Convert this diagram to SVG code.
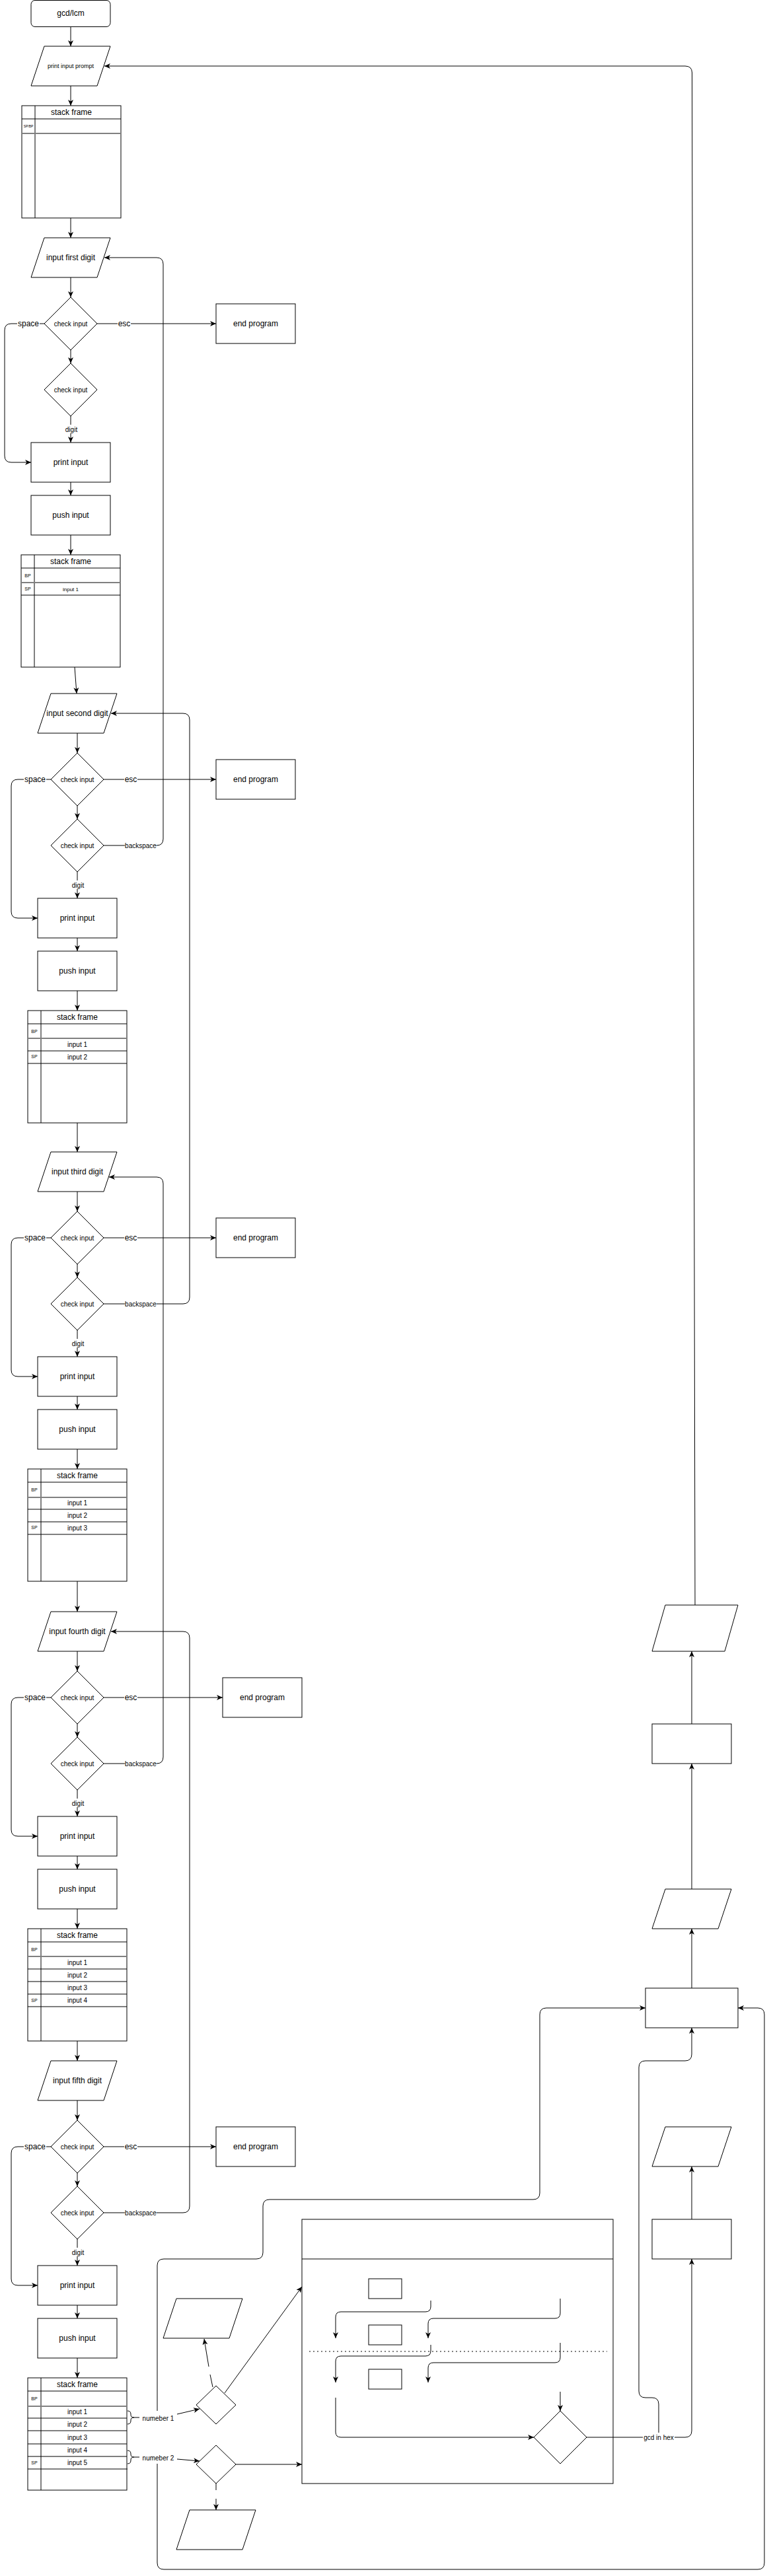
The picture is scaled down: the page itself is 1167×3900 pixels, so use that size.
<svg xmlns="http://www.w3.org/2000/svg" width="1167" height="3900" viewBox="0 0 1167 3900">
<defs>
<style>
.s{fill:#fff;stroke:#000;stroke-width:1}
.c{fill:none;stroke:#000;stroke-width:1}
.a{marker-end:url(#ar)}
.g{stroke:#808080;stroke-width:2}
.l{stroke:#000;stroke-width:1}
.bg{fill:#fff;stroke:none}
text{font-family:"Liberation Sans",Arial,Helvetica,sans-serif;fill:#000;text-anchor:middle}
.f12{font-size:12px}.f10{font-size:10px}.f9{font-size:9px}.f8{font-size:8px}.f7{font-size:7px}.f5{font-size:5px}
</style>
<marker id="ar" markerWidth="10" markerHeight="8" refX="9" refY="4" orient="auto" markerUnits="userSpaceOnUse"><path d="M0,0 L9,4 L0,8 L2.5,4 Z" fill="#000"/></marker>
</defs>
<rect x="0" y="0" width="1167" height="3900" fill="#fff"/>

<!-- connectors -->
<g id="connectors">
<!-- section 1 -->
<path class="c a" d="M107,40 V70"/>
<path class="c a" d="M107,130 V160"/>
<path class="c a" d="M107,330 V360"/>
<path class="c a" d="M107,420 V450"/>
<path class="c a" d="M107,530 V550"/>
<path class="c a" d="M107,630 V670"/>
<path class="c a" d="M107,730 V750"/>
<path class="c a" d="M107,810 V840"/>
<path class="c a" d="M147,490 H327"/>
<path class="c a" d="M67,490 H17 Q7,490 7,500 V690 Q7,700 17,700 H47"/>
<!-- section 2 -->
<path class="c a" d="M113,1010 L116,1050"/>
<path class="c a" d="M117,1110 V1140"/>
<path class="c a" d="M117,1220 V1240"/>
<path class="c a" d="M117,1320 V1360"/>
<path class="c a" d="M117,1420 V1440"/>
<path class="c a" d="M117,1500 V1530"/>
<path class="c a" d="M157,1180 H327"/>
<path class="c a" d="M77,1180 H27 Q17,1180 17,1190 V1380 Q17,1390 27,1390 H57"/>
<path class="c a" d="M157,1280 H237 Q247,1280 247,1270 V400 Q247,390 237,390 H158"/>
<!-- section 3 -->
<path class="c a" d="M117,1700 V1744"/>
<path class="c a" d="M117,1804 V1834"/>
<path class="c a" d="M117,1914 V1934"/>
<path class="c a" d="M117,2014 V2054"/>
<path class="c a" d="M117,2114 V2134"/>
<path class="c a" d="M117,2194 V2224"/>
<path class="c a" d="M157,1874 H327"/>
<path class="c a" d="M77,1874 H27 Q17,1874 17,1884 V2074 Q17,2084 27,2084 H57"/>
<path class="c a" d="M157,1974 H277 Q287,1974 287,1964 V1090 Q287,1080 277,1080 H168"/>
<!-- section 4 -->
<path class="c a" d="M117,2394 V2440"/>
<path class="c a" d="M117,2500 V2530"/>
<path class="c a" d="M117,2610 V2630"/>
<path class="c a" d="M117,2710 V2750"/>
<path class="c a" d="M117,2810 V2830"/>
<path class="c a" d="M117,2890 V2920"/>
<path class="c a" d="M157,2570 H337"/>
<path class="c a" d="M77,2570 H27 Q17,2570 17,2580 V2770 Q17,2780 27,2780 H57"/>
<path class="c a" d="M157,2670 H237 Q247,2670 247,2660 V1792 Q247,1782 237,1782 H165"/>
<!-- section 5 -->
<path class="c a" d="M117,3090 V3120"/>
<path class="c a" d="M117,3180 V3210"/>
<path class="c a" d="M117,3290 V3310"/>
<path class="c a" d="M117,3390 V3430"/>
<path class="c a" d="M117,3490 V3510"/>
<path class="c a" d="M117,3570 V3600"/>
<path class="c a" d="M157,3250 H327"/>
<path class="c a" d="M77,3250 H27 Q17,3250 17,3260 V3450 Q17,3460 27,3460 H57"/>
<path class="c a" d="M157,3350 H277 Q287,3350 287,3340 V2480 Q287,2470 277,2470 H168"/>
<!-- right column -->
<path class="c a" d="M1052,2430 L1047.5,110 Q1047.3,100 1037,100 H158"/>
<path class="c a" d="M1047,2610 V2500"/>
<path class="c a" d="M1047,2860 V2670"/>
<path class="c a" d="M1047,3010 V2920"/>
<path class="c a" d="M1047,3360 V3280"/>
<path class="c a" d="M888,3690 H1037 Q1047,3690 1047,3680 V3420"/>
<path class="c a" d="M997,3684 V3640 Q997,3630 987,3630 H977 Q967,3630 967,3620 V3130 Q967,3120 977,3120 H1037 Q1047,3120 1047,3110 V3070"/>
<!-- bottom area -->
<path class="c a" d="M238,3650 V3430 Q238,3420 248,3420 H388 Q398,3420 398,3410 V3340 Q398,3330 408,3330 H807 Q817,3330 817,3320 V3050 Q817,3040 827,3040 H977"/>
<path class="c a" d="M238,3730 V3880 Q238,3890 248,3890 H1147 Q1157,3890 1157,3880 V3050 Q1157,3040 1147,3040 H1117"/>
<path class="c a" d="M268,3655 L302,3647"/>
<path class="c a" d="M268,3723 L302,3726"/>
<path class="c a" d="M340,3623 L457,3462"/>
<path class="c" d="M322,3614 L318,3595"/>
<path class="c a" d="M316,3583 L309,3541"/>
<path class="c a" d="M357,3731 H457"/>
<path class="c" d="M327,3760 V3770"/>
<path class="c a" d="M327,3783 V3800"/>
<!-- inside big box -->
<path class="c a" d="M652,3483 V3492 Q652,3500 644,3500 H516 Q508,3500 508,3508 V3540"/>
<path class="c a" d="M848,3480 V3502 Q848,3510 840,3510 H656 Q648,3510 648,3518 V3540"/>
<path class="c a" d="M652,3550 V3559 Q652,3567 644,3567 H516 Q508,3567 508,3575 V3607"/>
<path class="c a" d="M848,3547 V3569 Q848,3577 840,3577 H656 Q648,3577 648,3585 V3607"/>
<path class="c a" d="M508,3630 V3682 Q508,3690 516,3690 H808"/>
<path class="c a" d="M848,3621 V3650"/>
<path class="c" d="M468,3560 H919" stroke-dasharray="2 4" stroke-width="1.5"/>
</g>

<!-- edge labels -->
<g id="edge-labels">
<rect class="bg" x="26" y="483" width="34" height="14"/><text class="f12" x="43" y="494">space</text>
<rect class="bg" x="178" y="483" width="20" height="14"/><text class="f12" x="188" y="494">esc</text>
<rect class="bg" x="97" y="643" width="21" height="13"/><text class="f10" x="108" y="653.5">digit</text>

<rect class="bg" x="36" y="1173" width="34" height="14"/><text class="f12" x="53" y="1184">space</text>
<rect class="bg" x="188" y="1173" width="20" height="14"/><text class="f12" x="198" y="1184">esc</text>
<rect class="bg" x="107" y="1333" width="21" height="13"/><text class="f10" x="118" y="1343.5">digit</text>
<rect class="bg" x="189" y="1274" width="48" height="13"/><text class="f10" x="213" y="1284">backspace</text>

<rect class="bg" x="36" y="1867" width="34" height="14"/><text class="f12" x="53" y="1878">space</text>
<rect class="bg" x="188" y="1867" width="20" height="14"/><text class="f12" x="198" y="1878">esc</text>
<rect class="bg" x="107" y="2027" width="21" height="13"/><text class="f10" x="118" y="2037.5">digit</text>
<rect class="bg" x="189" y="1968" width="48" height="13"/><text class="f10" x="213" y="1978">backspace</text>

<rect class="bg" x="36" y="2563" width="34" height="14"/><text class="f12" x="53" y="2574">space</text>
<rect class="bg" x="188" y="2563" width="20" height="14"/><text class="f12" x="198" y="2574">esc</text>
<rect class="bg" x="107" y="2723" width="21" height="13"/><text class="f10" x="118" y="2733.5">digit</text>
<rect class="bg" x="189" y="2664" width="48" height="13"/><text class="f10" x="213" y="2674">backspace</text>

<rect class="bg" x="36" y="3243" width="34" height="14"/><text class="f12" x="53" y="3254">space</text>
<rect class="bg" x="188" y="3243" width="20" height="14"/><text class="f12" x="198" y="3254">esc</text>
<rect class="bg" x="107" y="3403" width="21" height="13"/><text class="f10" x="118" y="3413.5">digit</text>
<rect class="bg" x="189" y="3344" width="48" height="13"/><text class="f10" x="213" y="3354">backspace</text>

<rect class="bg" x="973" y="3683" width="48" height="13"/><text class="f10" x="997" y="3693.5">gcd in hex</text>
</g>

<!-- nodes -->
<g id="start"><rect class="s" x="47" y="0.5" width="120" height="40" rx="6"/><text class="f12" x="107" y="24">gcd/lcm</text></g>
<g id="prompt"><polygon class="s" points="67,70 167,70 147,130 47,130"/><text class="f9" x="107" y="103">print input prompt</text></g>

<g id="stack1">
<rect class="s" x="33" y="160" width="150" height="170"/>
<line class="l" x1="33" y1="180" x2="183" y2="180"/>
<line class="l" x1="53" y1="160" x2="53" y2="330"/>
<line class="g" x1="33" y1="202" x2="183" y2="202"/>
<text class="f12" x="108" y="174">stack frame</text>
<text class="f5" x="43" y="193">SP/BP</text>
</g>

<g id="input1"><polygon class="s" points="67,360 167,360 147,420 47,420"/><text class="f12" x="107" y="394">input first digit</text></g>
<g id="check1a"><polygon class="s" points="107,450 147,490 107,530 67,490"/><text class="f10" x="107" y="493.5">check input</text></g>
<g id="check1b"><polygon class="s" points="107,550 147,590 107,630 67,590"/><text class="f10" x="107" y="593.5">check input</text></g>
<g id="print1"><rect class="s" x="47" y="670" width="120" height="60"/><text class="f12" x="107" y="704">print input</text></g>
<g id="push1"><rect class="s" x="47" y="750" width="120" height="60"/><text class="f12" x="107" y="784">push input</text></g>
<g id="end1"><rect class="s" x="327" y="460" width="120" height="60"/><text class="f12" x="387" y="494">end program</text></g>

<g id="stack2">
<rect class="s" x="32" y="840" width="150" height="170"/>
<line class="l" x1="32" y1="860" x2="182" y2="860"/>
<line class="l" x1="52" y1="840" x2="52" y2="1010"/>
<line class="g" x1="32" y1="882" x2="182" y2="882"/>
<line class="l" x1="32" y1="901" x2="182" y2="901"/>
<text class="f12" x="107" y="854">stack frame</text>
<text class="f7" x="42" y="873.5">BP</text>
<text class="f7" x="42" y="894">SP</text>
<text class="f8" x="107" y="894.5">input 1</text>
</g>

<g id="input2"><polygon class="s" points="77,1050 177,1050 157,1110 57,1110"/><text class="f12" x="117" y="1084">input second digit</text></g>
<g id="check2a"><polygon class="s" points="117,1140 157,1180 117,1220 77,1180"/><text class="f10" x="117" y="1183.5">check input</text></g>
<g id="check2b"><polygon class="s" points="117,1240 157,1280 117,1320 77,1280"/><text class="f10" x="117" y="1283.5">check input</text></g>
<g id="print2"><rect class="s" x="57" y="1360" width="120" height="60"/><text class="f12" x="117" y="1394">print input</text></g>
<g id="push2"><rect class="s" x="57" y="1440" width="120" height="60"/><text class="f12" x="117" y="1474">push input</text></g>
<g id="end2"><rect class="s" x="327" y="1150" width="120" height="60"/><text class="f12" x="387" y="1184">end program</text></g>

<g id="stack3">
<rect class="s" x="42" y="1530" width="150" height="170"/>
<line class="l" x1="42" y1="1550" x2="192" y2="1550"/>
<line class="l" x1="62" y1="1530" x2="62" y2="1700"/>
<line class="g" x1="42" y1="1572" x2="192" y2="1572"/>
<line class="l" x1="42" y1="1591" x2="192" y2="1591"/>
<line class="l" x1="42" y1="1610" x2="192" y2="1610"/>
<text class="f12" x="117" y="1544">stack frame</text>
<text class="f7" x="52" y="1563.5">BP</text>
<text class="f10" x="117" y="1585">input 1</text>
<text class="f7" x="52" y="1602">SP</text>
<text class="f10" x="117" y="1604">input 2</text>
</g>

<g id="input3"><polygon class="s" points="77,1744 177,1744 157,1804 57,1804"/><text class="f12" x="117" y="1778">input third digit</text></g>
<g id="check3a"><polygon class="s" points="117,1834 157,1874 117,1914 77,1874"/><text class="f10" x="117" y="1877.5">check input</text></g>
<g id="check3b"><polygon class="s" points="117,1934 157,1974 117,2014 77,1974"/><text class="f10" x="117" y="1977.5">check input</text></g>
<g id="print3"><rect class="s" x="57" y="2054" width="120" height="60"/><text class="f12" x="117" y="2088">print input</text></g>
<g id="push3"><rect class="s" x="57" y="2134" width="120" height="60"/><text class="f12" x="117" y="2168">push input</text></g>
<g id="end3"><rect class="s" x="327" y="1844" width="120" height="60"/><text class="f12" x="387" y="1878">end program</text></g>

<g id="stack4">
<rect class="s" x="42" y="2224" width="150" height="170"/>
<line class="l" x1="42" y1="2244" x2="192" y2="2244"/>
<line class="l" x1="62" y1="2224" x2="62" y2="2394"/>
<line class="g" x1="42" y1="2267" x2="192" y2="2267"/>
<line class="l" x1="42" y1="2285" x2="192" y2="2285"/>
<line class="l" x1="42" y1="2304" x2="192" y2="2304"/>
<line class="l" x1="42" y1="2323" x2="192" y2="2323"/>
<text class="f12" x="117" y="2238">stack frame</text>
<text class="f7" x="52" y="2257.5">BP</text>
<text class="f10" x="117" y="2279">input 1</text>
<text class="f10" x="117" y="2298">input 2</text>
<text class="f7" x="52" y="2315">SP</text>
<text class="f10" x="117" y="2317">input 3</text>
</g>

<g id="input4"><polygon class="s" points="77,2440 177,2440 157,2500 57,2500"/><text class="f12" x="117" y="2474">input fourth digit</text></g>
<g id="check4a"><polygon class="s" points="117,2530 157,2570 117,2610 77,2570"/><text class="f10" x="117" y="2573.5">check input</text></g>
<g id="check4b"><polygon class="s" points="117,2630 157,2670 117,2710 77,2670"/><text class="f10" x="117" y="2673.5">check input</text></g>
<g id="print4"><rect class="s" x="57" y="2750" width="120" height="60"/><text class="f12" x="117" y="2784">print input</text></g>
<g id="push4"><rect class="s" x="57" y="2830" width="120" height="60"/><text class="f12" x="117" y="2864">push input</text></g>
<g id="end4"><rect class="s" x="337" y="2540" width="120" height="60"/><text class="f12" x="397" y="2574">end program</text></g>

<g id="stack5">
<rect class="s" x="42" y="2920" width="150" height="170"/>
<line class="l" x1="42" y1="2940" x2="192" y2="2940"/>
<line class="l" x1="62" y1="2920" x2="62" y2="3090"/>
<line class="g" x1="42" y1="2962" x2="192" y2="2962"/>
<line class="l" x1="42" y1="2981" x2="192" y2="2981"/>
<line class="l" x1="42" y1="3000" x2="192" y2="3000"/>
<line class="l" x1="42" y1="3019" x2="192" y2="3019"/>
<line class="l" x1="42" y1="3038" x2="192" y2="3038"/>
<text class="f12" x="117" y="2934">stack frame</text>
<text class="f7" x="52" y="2953.5">BP</text>
<text class="f10" x="117" y="2975">input 1</text>
<text class="f10" x="117" y="2994">input 2</text>
<text class="f10" x="117" y="3013">input 3</text>
<text class="f7" x="52" y="3031">SP</text>
<text class="f10" x="117" y="3032">input 4</text>
</g>

<g id="input5"><polygon class="s" points="77,3120 177,3120 157,3180 57,3180"/><text class="f12" x="117" y="3154">input fifth digit</text></g>
<g id="check5a"><polygon class="s" points="117,3210 157,3250 117,3290 77,3250"/><text class="f10" x="117" y="3253.5">check input</text></g>
<g id="check5b"><polygon class="s" points="117,3310 157,3350 117,3390 77,3350"/><text class="f10" x="117" y="3353.5">check input</text></g>
<g id="print5"><rect class="s" x="57" y="3430" width="120" height="60"/><text class="f12" x="117" y="3464">print input</text></g>
<g id="push5"><rect class="s" x="57" y="3510" width="120" height="60"/><text class="f12" x="117" y="3544">push input</text></g>
<g id="end5"><rect class="s" x="327" y="3220" width="120" height="60"/><text class="f12" x="387" y="3254">end program</text></g>

<g id="stack6">
<rect class="s" x="42" y="3600" width="150" height="170"/>
<line class="l" x1="42" y1="3620" x2="192" y2="3620"/>
<line class="l" x1="62" y1="3600" x2="62" y2="3770"/>
<line class="g" x1="42" y1="3643" x2="192" y2="3643"/>
<line class="l" x1="42" y1="3661" x2="192" y2="3661"/>
<line class="l" x1="42" y1="3680" x2="192" y2="3680"/>
<line class="l" x1="42" y1="3700" x2="192" y2="3700"/>
<line class="l" x1="42" y1="3719" x2="192" y2="3719"/>
<line class="l" x1="42" y1="3738" x2="193" y2="3738"/>
<text class="f12" x="117" y="3614">stack frame</text>
<text class="f7" x="52" y="3634">BP</text>
<text class="f10" x="117" y="3655">input 1</text>
<text class="f10" x="117" y="3674">input 2</text>
<text class="f10" x="117" y="3694">input 3</text>
<text class="f10" x="117" y="3713">input 4</text>
<text class="f7" x="52" y="3731">SP</text>
<text class="f10" x="117" y="3732">input 5</text>
</g>

<g id="brace1">
<path class="c" d="M193,3650 Q198,3650 198,3655 V3656 Q198,3660 203,3660 Q198,3660 198,3664 V3665 Q198,3670 193,3670 M203,3660 H211"/>
<rect class="bg" x="213" y="3654" width="53" height="14"/>
<text class="f10" x="239.5" y="3665" >numeber 1</text>
</g>
<g id="brace2">
<path class="c" d="M193,3710 Q198,3710 198,3715 V3716 Q198,3720 203,3720 Q198,3720 198,3724 V3725 Q198,3730 193,3730 M203,3720 H211"/>
<rect class="bg" x="213" y="3714" width="53" height="14"/>
<text class="f10" x="239.5" y="3725">numeber 2</text>
</g>

<g id="diamondA"><polygon class="s" points="327,3612 357,3641 327,3670 297,3641"/></g>
<g id="diamondB"><polygon class="s" points="327,3702 357,3731 327,3760 297,3731"/></g>
<g id="para1"><polygon class="s" points="267,3480 367,3480 347,3540 247,3540"/></g>
<g id="para2"><polygon class="s" points="287,3800 387,3800 367,3860 267,3860"/></g>

<g id="bigbox">
<rect class="c" x="457" y="3360" width="471" height="400"/>
<line class="l" x1="457" y1="3420" x2="928" y2="3420"/>
</g>
<g id="box1"><rect class="s" x="558" y="3450" width="50" height="30"/></g>
<g id="box2"><rect class="s" x="558" y="3520" width="50" height="30"/></g>
<g id="box3"><rect class="s" x="558" y="3587" width="50" height="30"/></g>
<g id="diamondD"><polygon class="s" points="848,3650 888,3690 848,3730 808,3690"/></g>

<g id="r6"><polygon class="s" points="1007,2430 1117,2430 1097,2500 987,2500"/></g>
<g id="r5"><rect class="s" x="987" y="2610" width="120" height="60"/></g>
<g id="r2"><polygon class="s" points="1007,2860 1107,2860 1087,2920 987,2920"/></g>
<g id="r1"><rect class="s" x="977" y="3010" width="140" height="60"/></g>
<g id="r4"><polygon class="s" points="1007,3220 1107,3220 1087,3280 987,3280"/></g>
<g id="r3"><rect class="s" x="987" y="3360" width="120" height="60"/></g>
</svg>
